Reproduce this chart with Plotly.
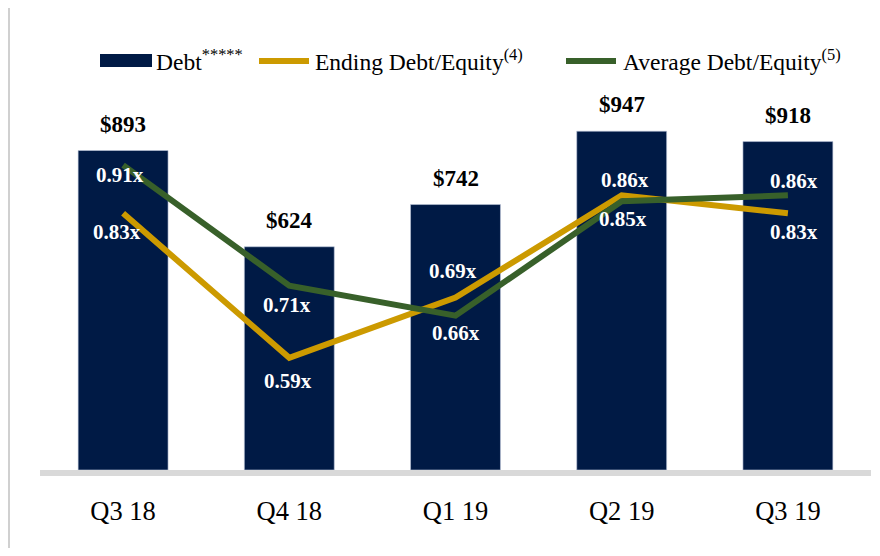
import plotly.graph_objects as go

# ---- data ----
quarters = ["Q3 18", "Q4 18", "Q1 19", "Q2 19", "Q3 19"]
debt = [893, 624, 742, 947, 918]
ending_de = [0.83, 0.59, 0.69, 0.86, 0.83]
average_de = [0.91, 0.71, 0.66, 0.85, 0.86]

# ---- style ----
NAVY = "#001A45"
GOLD = "#CC9A00"
GREEN = "#38602A"
FONT = "Liberation Serif, Times New Roman, serif"

OFF = 8  # default page body margin
W, H = 880 - 2 * OFF, 556 - 2 * OFF
# plot area in window pixels: x 40..871, y 60..470
L = 40 - OFF
T = 60 - OFF
R = W - (871 - OFF)
B = H - (470 - OFF)
PH = H - T - B

ending_shift = [(-6, -19), (-1, -23), (-3, 27), (3, 15), (6, -19)]
average_shift = [(-3, -10), (-2, -19), (0, -17), (1, -18), (6, 14)]


def py(p):  # window pixel y -> paper y
    return ((470 - OFF) - (p - OFF)) / PH


def px(p):  # window pixel x -> paper x
    return ((p - OFF) - L) / (W - L - R)


fig = go.Figure()
fig.add_trace(go.Bar(
    x=quarters, y=debt, name="Debt",
    marker=dict(color=NAVY, line=dict(color="rgba(190,200,220,0.6)", width=1)),
    showlegend=False, hoverinfo="skip",
))
fig.add_trace(go.Scatter(
    x=quarters, y=ending_de, yaxis="y2", mode="lines", name="Ending Debt/Equity",
    line=dict(color=GOLD, width=6), showlegend=False,
))
fig.add_trace(go.Scatter(
    x=quarters, y=average_de, yaxis="y2", mode="lines", name="Average Debt/Equity",
    line=dict(color=GREEN, width=6), showlegend=False,
))

ann = []
for q, v in zip(quarters, debt):
    ann.append(dict(x=q, y=v, xref="x", yref="y", text=f"<b>${v}</b>",
                    showarrow=False, yanchor="bottom", yshift=12,
                    font=dict(family=FONT, size=23, color="#000000")))
for q, v, (dx, dy) in zip(quarters, ending_de, ending_shift):
    ann.append(dict(x=q, y=v, xref="x", yref="y2", text=f"<b>{v:.2f}x</b>",
                    showarrow=False, yanchor="middle", xshift=dx, yshift=dy,
                    font=dict(family=FONT, size=21, color="#FFFFFF")))
for q, v, (dx, dy) in zip(quarters, average_de, average_shift):
    ann.append(dict(x=q, y=v, xref="x", yref="y2", text=f"<b>{v:.2f}x</b>",
                    showarrow=False, yanchor="middle", xshift=dx, yshift=dy,
                    font=dict(family=FONT, size=21, color="#FFFFFF")))

# custom legend
legend_items = [
    ("Debt<sup>*****</sup>", 154),
    ("Ending Debt/Equity<sup>(4)</sup>", 313),
    ("Average Debt/Equity<sup>(5)</sup>", 621),
]
for txt, x0 in legend_items:
    ann.append(dict(x=px(x0), y=py(60), xref="paper", yref="paper", text=txt,
                    showarrow=False, xanchor="left", yanchor="middle",
                    font=dict(family=FONT, size=23.5, color="#000000")))

shapes = [
    # legend swatches
    dict(type="rect", xref="paper", yref="paper", x0=px(100), x1=px(152),
         y0=py(67), y1=py(54), fillcolor=NAVY, line=dict(width=0)),
    dict(type="line", xref="paper", yref="paper", x0=px(259), x1=px(309),
         y0=py(61), y1=py(61), line=dict(color=GOLD, width=6)),
    dict(type="line", xref="paper", yref="paper", x0=px(566), x1=px(616),
         y0=py(61), y1=py(61), line=dict(color=GREEN, width=6)),
    # baseline
    dict(type="rect", xref="paper", yref="paper", x0=0, x1=1,
         y0=py(476), y1=py(470), fillcolor="#D9D9D9", line=dict(width=0)),
    # left frame line
    dict(type="line", xref="paper", yref="paper", x0=px(OFF + 1), x1=px(OFF + 1),
         y0=py(OFF), y1=py(556), line=dict(color="#D0D0D0", width=2)),
]

fig.update_layout(
    width=W, height=H,
    margin=dict(l=L, r=R, t=T, b=B, pad=0),
    paper_bgcolor="white", plot_bgcolor="white",
    bargap=0.459,
    showlegend=False,
    xaxis=dict(showgrid=False, showline=False, zeroline=False, ticks="",
               tickfont=dict(family=FONT, size=26.5, color="#000000"),
               ticklabelstandoff=22),
    yaxis=dict(range=[0, 1146], visible=False, showgrid=False, zeroline=False),
    yaxis2=dict(range=[0.4037, 1.0847], overlaying="y", visible=False,
                showgrid=False, zeroline=False),
    annotations=ann,
    shapes=shapes,
)

fig.write_html("out.html")
